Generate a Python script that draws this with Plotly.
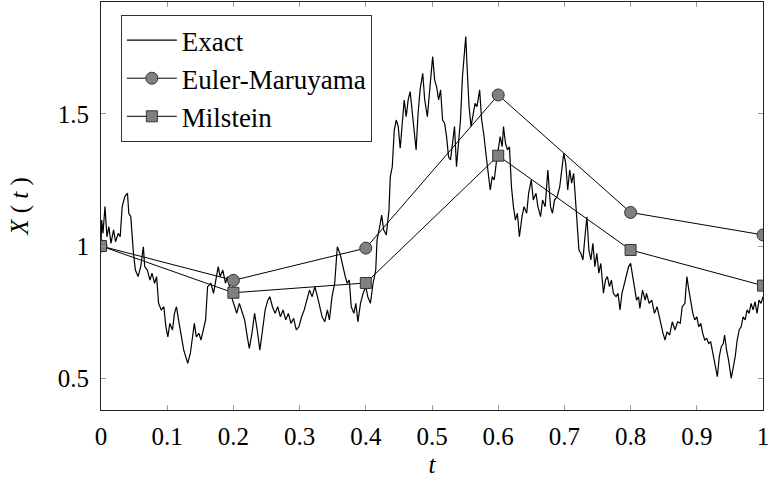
import plotly.graph_objects as go

# Exact path
t_exact = [0.000, 0.001, 0.003, 0.006, 0.009, 0.012, 0.015, 0.019, 0.022, 0.026,
           0.029, 0.032, 0.036, 0.040, 0.042, 0.045, 0.049, 0.052, 0.056, 0.060,
           0.064, 0.066, 0.070, 0.074, 0.077, 0.081, 0.084, 0.087, 0.091, 0.095,
           0.098, 0.101, 0.104, 0.108, 0.111, 0.114, 0.118, 0.121, 0.125, 0.128,
           0.131, 0.135, 0.138, 0.141, 0.144, 0.148, 0.151, 0.155, 0.158, 0.161,
           0.166, 0.170, 0.174, 0.177, 0.180, 0.184, 0.188, 0.191, 0.194, 0.197,
           0.202, 0.205, 0.209, 0.212, 0.217, 0.221, 0.224, 0.228, 0.232, 0.236,
           0.240, 0.244, 0.248, 0.252, 0.255, 0.259, 0.263, 0.267, 0.271, 0.275,
           0.279, 0.283, 0.287, 0.291, 0.295, 0.299, 0.303, 0.307, 0.311, 0.315,
           0.319, 0.323, 0.327, 0.331, 0.334, 0.338, 0.342, 0.345, 0.349, 0.353,
           0.357, 0.361, 0.365, 0.369, 0.372, 0.375, 0.378, 0.382, 0.385, 0.388,
           0.392, 0.396, 0.400, 0.403, 0.407, 0.411, 0.415, 0.417, 0.421, 0.424,
           0.427, 0.431, 0.435, 0.437, 0.440, 0.443, 0.446, 0.449, 0.452, 0.455,
           0.458, 0.461, 0.464, 0.467, 0.470, 0.473, 0.476, 0.479, 0.482, 0.486,
           0.489, 0.493, 0.497, 0.501, 0.504, 0.507, 0.510, 0.513, 0.516, 0.519,
           0.522, 0.525, 0.528, 0.531, 0.534, 0.537, 0.540, 0.543, 0.546, 0.548,
           0.551, 0.553, 0.556, 0.559, 0.562, 0.565, 0.568, 0.572, 0.575, 0.578,
           0.582, 0.585, 0.588, 0.591, 0.594, 0.597, 0.600, 0.603, 0.606, 0.608,
           0.611, 0.614, 0.617, 0.620, 0.623, 0.626, 0.629, 0.632, 0.636, 0.639,
           0.643, 0.646, 0.650, 0.653, 0.657, 0.660, 0.664, 0.667, 0.671, 0.675,
           0.679, 0.682, 0.685, 0.689, 0.693, 0.696, 0.699, 0.702, 0.705, 0.708,
           0.711, 0.714, 0.717, 0.720, 0.722, 0.725, 0.728, 0.731, 0.734, 0.737,
           0.740, 0.743, 0.746, 0.749, 0.752, 0.755, 0.759, 0.762, 0.765, 0.768,
           0.771, 0.774, 0.778, 0.781, 0.784, 0.787, 0.791, 0.794, 0.797, 0.800,
           0.803, 0.806, 0.809, 0.812, 0.814, 0.818, 0.822, 0.824, 0.828, 0.832,
           0.836, 0.840, 0.843, 0.846, 0.849, 0.852, 0.855, 0.859, 0.863, 0.867,
           0.871, 0.875, 0.878, 0.882, 0.885, 0.888, 0.891, 0.894, 0.897, 0.900,
           0.903, 0.906, 0.909, 0.912, 0.915, 0.918, 0.921, 0.924, 0.927, 0.931,
           0.934, 0.937, 0.940, 0.942, 0.945, 0.948, 0.952, 0.955, 0.958, 0.961,
           0.964, 0.967, 0.970, 0.973, 0.976, 0.979, 0.982, 0.985, 0.988, 0.991,
           0.994, 0.997, 1.000]
x_exact = [1.000, 1.098, 1.048, 1.149, 1.035, 1.073, 1.010, 1.061, 1.016, 1.048,
           1.035, 1.149, 1.187, 1.200, 1.124, 1.111, 0.972, 0.909, 0.884, 0.922,
           0.997, 0.922, 0.909, 0.871, 0.897, 0.859, 0.884, 0.783, 0.758, 0.770,
           0.694, 0.656, 0.707, 0.682, 0.745, 0.770, 0.707, 0.656, 0.606, 0.581,
           0.556, 0.594, 0.644, 0.707, 0.656, 0.669, 0.644, 0.682, 0.720, 0.846,
           0.859, 0.821, 0.871, 0.922, 0.884, 0.909, 0.859, 0.884, 0.846, 0.808,
           0.770, 0.745, 0.783, 0.758, 0.720, 0.656, 0.612, 0.669, 0.745, 0.682,
           0.606, 0.682, 0.758, 0.795, 0.808, 0.770, 0.745, 0.770, 0.732, 0.758,
           0.720, 0.745, 0.707, 0.726, 0.682, 0.694, 0.732, 0.758, 0.795, 0.833,
           0.808, 0.846, 0.808, 0.770, 0.732, 0.713, 0.758, 0.720, 0.808, 0.859,
           0.997, 0.972, 0.922, 0.884, 0.859, 0.871, 0.770, 0.745, 0.783, 0.713,
           0.783, 0.821, 0.846, 0.808, 0.783, 0.859, 0.909, 1.023, 1.073, 1.117,
           1.061, 1.042, 1.136, 1.263, 1.300, 1.439, 1.477, 1.452, 1.370, 1.477,
           1.553, 1.490, 1.553, 1.585, 1.515, 1.439, 1.364, 1.503, 1.591, 1.654,
           1.553, 1.490, 1.603, 1.717, 1.629, 1.603, 1.553, 1.591, 1.477, 1.465,
           1.414, 1.338, 1.326, 1.402, 1.452, 1.300, 1.389, 1.477, 1.641, 1.705,
           1.793, 1.679, 1.528, 1.452, 1.490, 1.540, 1.528, 1.591, 1.477, 1.427,
           1.338, 1.275, 1.212, 1.263, 1.250, 1.313, 1.364, 1.414, 1.376, 1.452,
           1.389, 1.364, 1.376, 1.225, 1.149, 1.098, 1.124, 1.035, 1.111, 1.149,
           1.124, 1.200, 1.250, 1.174, 1.200, 1.149, 1.111, 1.174, 1.149, 1.288,
           1.149, 1.124, 1.174, 1.187, 1.225, 1.288, 1.351, 1.313, 1.212, 1.288,
           1.238, 1.275, 1.174, 1.073, 0.985, 0.972, 0.947, 1.035, 1.111, 0.985,
           0.947, 1.010, 0.922, 0.972, 0.897, 0.934, 0.821, 0.871, 0.884, 0.846,
           0.871, 0.821, 0.808, 0.821, 0.758, 0.821, 0.859, 0.897, 0.922, 0.934,
           0.884, 0.846, 0.795, 0.808, 0.764, 0.833, 0.795, 0.821, 0.783, 0.795,
           0.745, 0.770, 0.732, 0.694, 0.669, 0.644, 0.675, 0.663, 0.713, 0.682,
           0.713, 0.707, 0.770, 0.783, 0.884, 0.833, 0.783, 0.745, 0.720, 0.732,
           0.694, 0.707, 0.669, 0.644, 0.650, 0.631, 0.637, 0.594, 0.556, 0.505,
           0.581, 0.619, 0.631, 0.663, 0.606, 0.568, 0.499, 0.543, 0.581, 0.644,
           0.682, 0.694, 0.732, 0.720, 0.758, 0.745, 0.783, 0.758, 0.789, 0.745,
           0.795, 0.783, 0.808]

# Numerical schemes (coarse step 0.2)
t_coarse = [0.0, 0.2, 0.4, 0.6, 0.8, 1.0]
x_euler = [1.000, 0.870, 0.992, 1.572, 1.127, 1.042]
x_milstein = [1.000, 0.823, 0.860, 1.342, 0.985, 0.850]

x_ticks = [0, 0.1, 0.2, 0.3, 0.4, 0.5, 0.6, 0.7, 0.8, 0.9, 1]
x_tick_labels = ["0", "0.1", "0.2", "0.3", "0.4", "0.5", "0.6", "0.7", "0.8", "0.9", "1"]
y_ticks = [0.5, 1, 1.5]
y_tick_labels = ["0.5", "1", "1.5"]

FONT = "'Liberation Serif', Tinos, 'Times New Roman', serif"
FS = 25
LFS = 27

fig = go.Figure()
fig.add_trace(go.Scatter(x=t_exact, y=x_exact, mode="lines", name="Exact",
                         line=dict(color="black", width=1.2)))
fig.add_trace(go.Scatter(x=t_coarse, y=x_euler, mode="lines+markers", name="Euler-Maruyama",
                         line=dict(color="black", width=1),
                         marker=dict(symbol="circle", size=12, color="#808080",
                                     line=dict(color="#333333", width=1))))
fig.add_trace(go.Scatter(x=t_coarse, y=x_milstein, mode="lines+markers", name="Milstein",
                         line=dict(color="black", width=1),
                         marker=dict(symbol="square", size=11, color="#808080",
                                     line=dict(color="#333333", width=1))))

axis_common = dict(showline=True, linecolor="#222222", linewidth=1, mirror="ticks",
                   ticks="inside", ticklen=5, tickcolor="#999999", tickwidth=1,
                   showgrid=False, zeroline=False, automargin=False,
                   ticklabeloverflow="allow",
                   tickfont=dict(family=FONT, size=FS, color="black"))

fig.update_layout(
    width=770, height=483,
    margin=dict(l=101, r=7, t=2, b=73, autoexpand=False),
    paper_bgcolor="white", plot_bgcolor="white",
    font=dict(family=FONT, size=FS, color="black"),
    showlegend=True,
    legend=dict(x=0.030, y=0.968, xanchor="left", yanchor="top",
                bgcolor="white", bordercolor="#333333", borderwidth=1,
                font=dict(family=FONT, size=LFS, color="black"),
                tracegroupgap=0, itemwidth=50),
    xaxis=dict(range=[0, 1], tickvals=x_ticks, ticktext=x_tick_labels,
               ticklabelstandoff=4,
               title=dict(text="<i>t</i>", font=dict(family=FONT, size=FS), standoff=6),
               **axis_common),
    yaxis=dict(range=[0.379, 1.924], tickvals=y_ticks, ticktext=y_tick_labels,
               ticklabelstandoff=6,
               title=dict(text="<i>X</i> ( <i>t</i> )", font=dict(family=FONT, size=FS), standoff=22),
               **axis_common),
)

fig.write_html("out.html", config={"displayModeBar": False},
               post_script="document.body.style.margin='0';document.body.style.padding='0';")
